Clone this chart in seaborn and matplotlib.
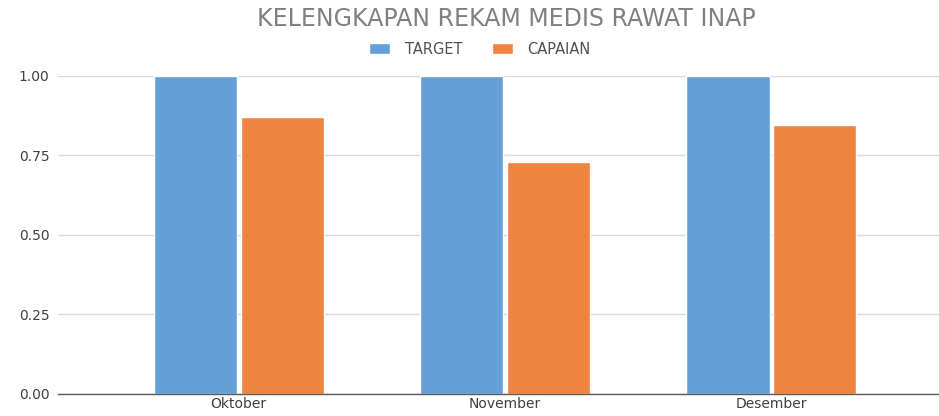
import matplotlib
matplotlib.use('Agg')
import matplotlib.pyplot as plt
import pandas as pd
import seaborn as sns

# data
bulan = ['Oktober', 'November', 'Desember']
target = [1.00, 1.00, 1.00]
capaian = [0.87, 0.727, 0.846]
series_names = ['TARGET', 'CAPAIAN']
colors = ['#64A0D7', '#EE843F']

df = pd.DataFrame({
    'bulan': bulan * 2,
    'nilai': target + capaian,
    'seri': [series_names[0]] * 3 + [series_names[1]] * 3,
})

sns.set_style('white')
plt.rcParams['font.family'] = ['DejaVu Sans']

fig = plt.figure(figsize=(9.39, 4.16), dpi=100)
ax = fig.add_axes([0.0615, 0.053, 0.9385, 0.7655])

sns.barplot(data=df, x='bulan', y='nilai', hue='seri', palette=colors,
            width=0.65, gap=0.04, saturation=1, ax=ax, legend=True)

ax.set_ylim(0, 1.0)
ax.set_xlim(-0.68, 2.63)
ax.set_yticks([0, 0.25, 0.5, 0.75, 1.0])
ax.set_yticklabels(['0.00', '0.25', '0.50', '0.75', '1.00'])
ax.set_xlabel('')
ax.set_ylabel('')
ax.yaxis.grid(True, color='#d9d9d9', linewidth=1)
ax.set_axisbelow(True)
for s in ['left', 'right', 'top']:
    ax.spines[s].set_visible(False)
ax.spines['bottom'].set_color('#595959')
ax.spines['bottom'].set_linewidth(1)
ax.tick_params(axis='both', length=0, labelsize=10, colors='#404040', pad=6)
ax.tick_params(axis='x', pad=2)

handles, labels = ax.get_legend_handles_labels()
ax.get_legend().remove()
fig.legend(handles, labels, loc='center', bbox_to_anchor=(0.511, 0.882), ncol=2,
           frameon=False, fontsize=10.5, labelcolor='#505050', handlelength=1.45,
           handleheight=0.7, columnspacing=2.0, handletextpad=1.0)

fig.text(0.539, 0.955, 'KELENGKAPAN REKAM MEDIS RAWAT INAP', ha='center', va='center',
         fontsize=17, color='#808080')

fig.savefig('out.png', dpi=100)
